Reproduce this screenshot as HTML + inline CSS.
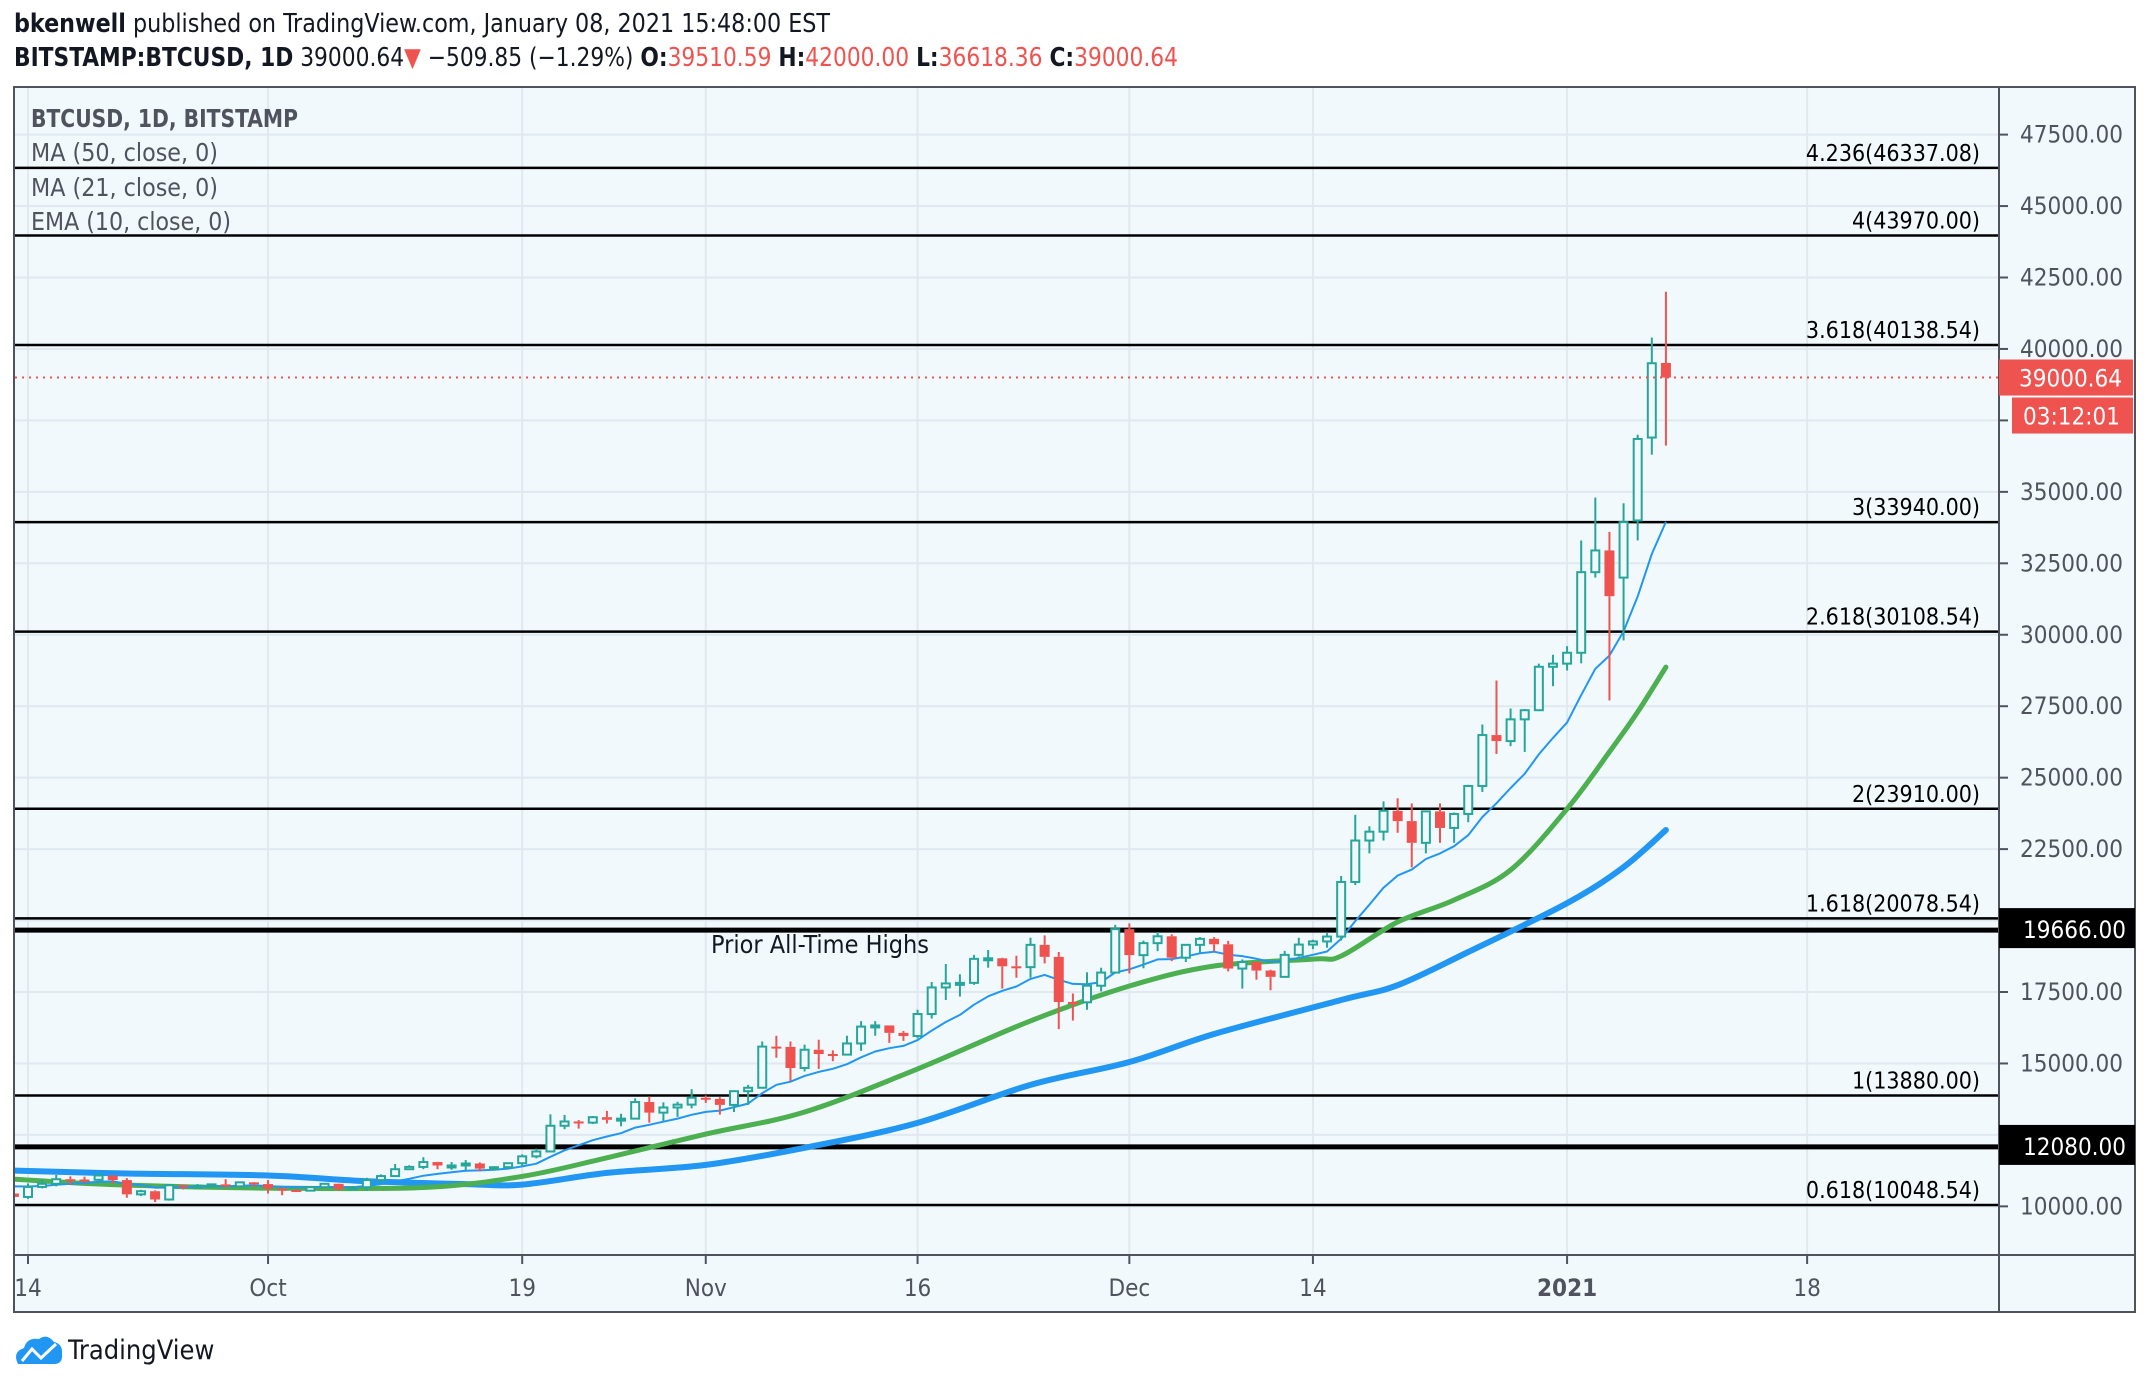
<!DOCTYPE html>
<html><head><meta charset="utf-8"><style>
html,body{margin:0;padding:0;background:#fff;}
svg{display:block;font-family:"Liberation Sans Narrow","DejaVu Sans Condensed","Liberation Sans",sans-serif;}
</style></head><body>
<svg id="chart" width="2148" height="1386" viewBox="0 0 2148 1386" xmlns="http://www.w3.org/2000/svg">
<text x="14" y="32" font-size="26" fill="#131722" textLength="816" lengthAdjust="spacingAndGlyphs"><tspan font-weight="bold">bkenwell</tspan> published on TradingView.com, January 08, 2021 15:48:00 EST</text>
<text x="14" y="66" font-size="26" fill="#131722" textLength="1164" lengthAdjust="spacingAndGlyphs"><tspan font-weight="bold">BITSTAMP:BTCUSD, 1D</tspan> 39000.64<tspan fill="#ef5350">▼</tspan> −509.85 (−1.29%) <tspan font-weight="bold">O:</tspan><tspan fill="#ef5350">39510.59</tspan> <tspan font-weight="bold">H:</tspan><tspan fill="#ef5350">42000.00</tspan> <tspan font-weight="bold">L:</tspan><tspan fill="#ef5350">36618.36</tspan> <tspan font-weight="bold">C:</tspan><tspan fill="#ef5350">39000.64</tspan></text>
<rect x="14" y="87" width="2121" height="1225" fill="#f1f9fd" stroke="#50535e" stroke-width="2"/>
<line x1="1999" y1="87" x2="1999" y2="1312" stroke="#50535e" stroke-width="2"/>
<line x1="14" y1="1255" x2="2135" y2="1255" stroke="#50535e" stroke-width="2"/>
<g id="grid"></g>
<g id="fibs"></g>
<defs><clipPath id="plot"><rect x="15" y="88" width="1983" height="1166"/></clipPath></defs>
<g id="series" clip-path="url(#plot)"></g>
<g id="axes"></g>
<text x="711" y="953" font-size="25" fill="#131722">Prior All-Time Highs</text>
<g fill="#50535e" font-size="25">
<text x="31" y="127" font-weight="bold" textLength="267" lengthAdjust="spacingAndGlyphs">BTCUSD, 1D, BITSTAMP</text>
<text x="31" y="161" textLength="187" lengthAdjust="spacingAndGlyphs">MA (50, close, 0)</text>
<text x="31" y="196" textLength="187" lengthAdjust="spacingAndGlyphs">MA (21, close, 0)</text>
<text x="31" y="230" textLength="200" lengthAdjust="spacingAndGlyphs">EMA (10, close, 0)</text>
</g>
<g>
<path d="M18 1364 q-6 -12 6 -16 q3 -11 15 -9 q8 -6 15 3 q9 2 8 12 q1 10 -8 10 h-30 q-6 0 -6 0z" fill="#2196f3"/>
<polyline points="22,1361 32,1349 41,1358 56,1344" fill="none" stroke="#fff" stroke-width="3"/>
<text x="68" y="1359" font-size="27" fill="#131722">TradingView</text>
</g>
</svg>
<script>
const dayStart = -1;
const opens = [10450,10330,10680,10790,10950,10940,10930,11080,10920,10420,10530,10240,10740,10690,10730,10770,10700,10840,10780,10620,10570,10550,10670,10790,10600,10670,10920,11060,11300,11380,11550,11430,11430,11500,11320,11370,11510,11750,11920,12820,12970,12930,13120,13030,13070,13650,13280,13460,13560,13800,13760,13550,14030,14150,15590,15580,14840,15480,15330,15310,15700,16290,16330,16070,15960,16730,17660,17800,17820,18660,18680,18400,18370,19150,18730,17150,17140,17720,18180,19700,18790,19210,19450,18700,19150,19360,19170,18320,18550,18250,18030,18800,19160,19270,19440,21350,22800,23110,23840,23480,22720,23820,23240,23730,24710,26490,26280,27040,27360,28880,28990,29370,32190,32950,32000,34000,36900,39510.59];
const closes = [10330,10680,10790,10950,10940,10930,11080,10920,10420,10530,10240,10740,10690,10730,10770,10700,10840,10780,10620,10570,10550,10670,10790,10600,10670,10920,11060,11300,11380,11550,11430,11430,11500,11320,11370,11510,11750,11920,12820,12970,12930,13120,13030,13070,13650,13280,13460,13560,13800,13760,13550,14030,14150,15590,15580,14840,15480,15330,15310,15700,16290,16330,16070,15960,16730,17660,17800,17820,18660,18680,18400,18370,19150,18730,17150,17140,17720,18180,19700,18790,19210,19450,18700,19150,19360,19170,18320,18550,18250,18030,18800,19160,19270,19440,21350,22800,23110,23840,23480,22720,23820,23240,23730,24710,26490,26280,27040,27360,28880,28990,29370,32190,32950,31350,33940,36850,39500,39000.64];
const highs = [10580,10800,10950,11100,11050,11040,11180,11050,10990,10580,10560,10780,10760,10780,10800,10950,10860,10850,10920,10650,10600,10690,10800,10800,10690,11000,11120,11480,11440,11720,11560,11550,11620,11540,11400,11530,11820,12020,13220,13200,13020,13160,13340,13240,13780,13850,13640,13660,14100,13880,13820,14060,14250,15770,15970,15770,15660,15830,15460,15970,16480,16480,16330,16140,16880,17850,18480,18120,18800,18970,18700,18770,19400,19480,18900,17450,18190,18350,19850,19900,19300,19600,19520,19180,19420,19420,19290,18640,18560,18280,18940,19400,19330,19560,21560,23700,23300,24170,24280,24100,23850,24100,23780,24750,26860,28400,27420,27400,28990,29300,29600,33300,34800,33600,34600,37000,40400,42000];
const lows = [10200,10260,10630,10700,10750,10820,10900,10780,10300,10360,10150,10200,10590,10650,10640,10660,10650,10680,10450,10390,10510,10530,10630,10540,10590,10550,10840,11050,11280,11300,11300,11280,11260,11220,11320,11360,11400,11680,11900,12700,12720,12880,12900,12800,13050,12930,12990,13130,13430,13620,13210,13300,13550,14120,15200,14380,14720,14810,15080,15280,15440,15970,15720,15790,15880,16570,17220,17340,17750,18350,17620,18000,18000,18500,16200,16500,16880,17520,18180,18150,18330,18930,18580,18550,18860,18920,18220,17620,17930,17560,18020,18740,19000,19050,19300,21240,22350,22800,23070,21860,22350,22720,22720,23440,24500,25830,26100,25900,27330,28200,28750,29000,32000,27700,29800,33300,36300,36618.36];
const ma50Days = [-1,7,17,24,31,35,41,48,55,63,71,78,84,93,97,102,109,113,116];
const ma50Vals = [11250,11150,11080,10880,10780,10760,11170,11450,12050,12920,14250,15050,16030,17220,17740,18900,20610,21870,23170];
const ma21Days = [-1,6,17,28,35,41,48,55,63,71,78,84,91,93,97,101,105,109,112,114,116];
const ma21Vals = [10950,10760,10640,10660,11050,11700,12530,13300,14810,16490,17710,18410,18650,18760,19950,20720,21770,23910,25900,27300,28870];
const priceTicks = ["10000.00","12500.00","15000.00","17500.00","20000.00","22500.00","25000.00","27500.00","30000.00","32500.00","35000.00","37500.00","40000.00","42500.00","45000.00","47500.00"];
const dateTickDays = [0,17,35,48,63,78,91,109,126];
const dateTickLabels = ["14","Oct","19","Nov","16","Dec","14","2021","18"];
const fibRatios = ["0.618","1","1.618","2","2.618","3","3.618","4","4.236"];
const fibLevels = [10048.54,13880.00,20078.54,23910.00,30108.54,33940.00,40138.54,43970.00,46337.08];
const athLevels = [19666, 12080];
const lastPrice = 39000.64;

const NS = "http://www.w3.org/2000/svg";
const y = p => 345 + (40138.54 - p) * 0.02858;
const x = d => 28 + d * 14.12;
function mk(tag, attrs, parent){const e=document.createElementNS(NS,tag);for(const k in attrs)e.setAttribute(k,attrs[k]);parent.appendChild(e);return e;}
const grid=document.getElementById('grid'), fibs=document.getElementById('fibs'), series=document.getElementById('series'), axes=document.getElementById('axes');

priceTicks.forEach(t=>{
  const yy=y(parseFloat(t));
  const gl=mk('line',{x1:15,x2:1998,y1:yy,y2:yy,stroke:'#dfe9ef','stroke-width':2},grid);
  
  
  mk('line',{x1:1999,x2:2008,y1:yy,y2:yy,stroke:'#50535e','stroke-width':2},axes);
  const tx=mk('text',{x:2020,y:yy+8,'font-size':24,fill:'#50535e'},axes);
  tx.textContent=t;
  
  
});
dateTickDays.forEach((d,i)=>{
  const xx=x(d);
  const gl=mk('line',{x1:xx,x2:xx,y1:88,y2:1254,stroke:'#dfe9ef','stroke-width':2},grid);
  
  
  mk('line',{x1:xx,x2:xx,y1:1255,y2:1264,stroke:'#50535e','stroke-width':2},axes);
  const tx=mk('text',{x:xx,y:1296,'font-size':24,fill:'#50535e','text-anchor':'middle','font-weight':dateTickLabels[i]==='2021'?'bold':'normal'},axes);
  tx.textContent=dateTickLabels[i];
  
  
});
fibLevels.forEach((lv,i)=>{
  const yy=y(lv);
  const ln=mk('line',{x1:15,x2:1998,y1:yy,y2:yy,stroke:'#000','stroke-width':2.5},fibs);
  
  
  const tx=mk('text',{x:1980,y:yy-7,'font-size':23,fill:'#000','text-anchor':'end'},fibs);
  tx.textContent=fibRatios[i]+'('+lv.toFixed(2)+')';
  
  
});
athLevels.forEach(lv=>{
  const yy=y(lv);
  const ln=mk('line',{x1:15,x2:1998,y1:yy,y2:yy,stroke:'#000','stroke-width':5},fibs);
  
  
  const bx=mk('rect',{x:1999,y:yy-22,width:136,height:40,fill:'#000'},axes);
  
  
  const tx=mk('text',{x:2126,y:yy+8,'font-size':24,fill:'#fff','text-anchor':'end'},axes);
  tx.textContent=lv.toFixed(2);
  
  
});

function line(days, vals, color, w, name){
  const P=days.map((d,i)=>[x(d),y(vals[i])]);
  let dstr='M'+P[0][0].toFixed(1)+','+P[0][1].toFixed(1);
  for(let i=0;i<P.length-1;i++){
    const p0=P[Math.max(i-1,0)],p1=P[i],p2=P[i+1],p3=P[Math.min(i+2,P.length-1)];
    const c1=[p1[0]+(p2[0]-p0[0])/6,p1[1]+(p2[1]-p0[1])/6];
    const c2=[p2[0]-(p3[0]-p1[0])/6,p2[1]-(p3[1]-p1[1])/6];
    dstr+=' C'+c1[0].toFixed(1)+','+c1[1].toFixed(1)+' '+c2[0].toFixed(1)+','+c2[1].toFixed(1)+' '+p2[0].toFixed(1)+','+p2[1].toFixed(1);
  }
  const pl=mk('path',{d:dstr,fill:'none',stroke:color,'stroke-width':w,'stroke-linejoin':'round','stroke-linecap':'round'},series);
  
  
}
line(ma50Days, ma50Vals, '#2196f3', 6, 'ma50-line');
line(ma21Days, ma21Vals, '#4caf50', 5, 'ma21-line');
const emaDays=[], emaVals=[]; let e=10700; const k=2/11;
closes.forEach((c,i)=>{ e = i===0 ? 10700 : c*k + e*(1-k); emaDays.push(dayStart+i); emaVals.push(e); });
(function(){
  const pts=emaDays.map((d,i)=>x(d).toFixed(1)+','+y(emaVals[i]).toFixed(1)).join(' ');
  const pl=mk('polyline',{points:pts,fill:'none',stroke:'#2196f3','stroke-width':2,'stroke-linejoin':'round'},series);
  
  
})();

closes.forEach((c,i)=>{
  const d=dayStart+i, o=opens[i], xx=x(d), up=c>=o;
  const col=up?'#26a69a':'#ef5350';
  const g=mk('g',{},series);
  
  
  const top=y(Math.max(o,c)), bot=y(Math.min(o,c));
  mk('line',{x1:xx,x2:xx,y1:y(highs[i]),y2:top,stroke:col,'stroke-width':2},g);
  mk('line',{x1:xx,x2:xx,y1:bot,y2:y(lows[i]),stroke:col,'stroke-width':2},g);
  const h=Math.max(bot-top,2);
  if(up) mk('rect',{x:xx-4,y:top,width:8,height:h,fill:'#f1f9fd',stroke:col,'stroke-width':2},g);
  else mk('rect',{x:xx-5,y:top,width:10,height:h,fill:col},g);
});

const ly=y(lastPrice);
const dl=mk('line',{x1:15,x2:1998,y1:ly,y2:ly,stroke:'#ef5350','stroke-width':2,'stroke-dasharray':'2 5'},series);


const pb=mk('rect',{x:1999,y:ly-18,width:134,height:36,fill:'#ef5350'},axes);


const pt=mk('text',{x:2122,y:ly+9,'font-size':24,fill:'#fff','text-anchor':'end'},axes);
pt.textContent=lastPrice.toFixed(2);


const tb=mk('rect',{x:2012,y:ly+20,width:121,height:36,fill:'#ef5350'},axes);


const tt=mk('text',{x:2120,y:ly+47,'font-size':24,fill:'#fff','text-anchor':'end'},axes);
tt.textContent='03:12:01';


</script>
</body></html>
